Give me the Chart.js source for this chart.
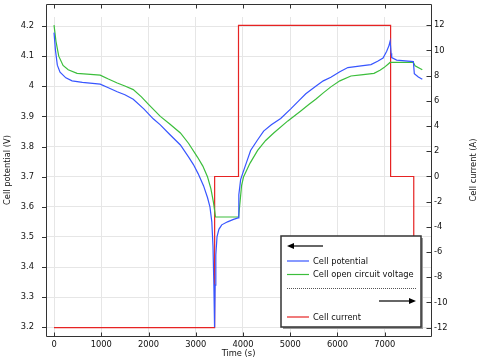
<!DOCTYPE html>
<html><head><meta charset="utf-8">
<script src="https://cdn.jsdelivr.net/npm/chart.js@4/dist/chart.umd.min.js"></script>
<style>html,body{margin:0;padding:0;background:#fff;}#wrap{width:483px;height:361px;position:relative;}</style>
</head><body><div id="wrap"><canvas id="c" width="483" height="361"></canvas></div>
<script>
// ---- data ----
const potTime = [0,30,70,127,250,382,600,977,1150,1338,1500,1677,1900,2100,2250,2450,2675,2850,2951,3050,3164,3250,3300,3340,3365,3385,3398,3410,3425,3450,3490,3550,3673,3800,3895,3912,3950,3992,4080,4161,4300,4437,4600,4798,5011,5200,5330,5540,5700,5860,6050,6220,6500,6709,6850,6965,7042,7090,7115,7135,7148,7254,7606,7627,7712,7796];
const potVolt = [4.178,4.12,4.07,4.047,4.028,4.018,4.013,4.007,3.995,3.982,3.972,3.957,3.925,3.892,3.872,3.84,3.805,3.765,3.74,3.71,3.67,3.63,3.6,3.55,3.47,3.33,3.2,3.34,3.44,3.5,3.525,3.54,3.55,3.558,3.563,3.64,3.69,3.71,3.75,3.787,3.82,3.851,3.872,3.893,3.925,3.955,3.975,4.0,4.018,4.03,4.048,4.062,4.068,4.072,4.083,4.094,4.116,4.135,4.15,4.11,4.095,4.087,4.082,4.042,4.031,4.023];
const ocvTime = [0,40,100,191,300,488,700,977,1150,1338,1500,1677,1850,2000,2250,2450,2675,2850,3036,3150,3248,3320,3376,3418,3907,3940,3970,4013,4150,4310,4480,4650,4950,5223,5400,5540,5700,5860,6050,6285,6500,6773,6900,6985,7076,7113,7606,7642,7796];
const ocvVolt = [4.203,4.15,4.1,4.069,4.055,4.043,4.04,4.037,4.024,4.011,4.001,3.989,3.965,3.94,3.9,3.875,3.845,3.81,3.765,3.735,3.70,3.66,3.614,3.566,3.566,3.62,3.67,3.70,3.745,3.787,3.82,3.845,3.885,3.918,3.94,3.957,3.978,3.998,4.018,4.034,4.038,4.043,4.053,4.062,4.074,4.079,4.079,4.068,4.055];
const curTime = [0,3400,3400,3905,3905,7125,7125,7615,7615,7785];
const curAmp  = [-12,-12,0,0,12,12,0,0,-12,-12];
const xTicks = [0,1000,2000,3000,4000,5000,6000,7000];
const leftTicks = [3.2,3.3,3.4,3.5,3.6,3.7,3.8,3.9,4.0,4.1,4.2];
const rightTicks = [-12,-10,-8,-6,-4,-2,0,2,4,6,8,10,12];
const seriesNames = ['Cell potential','Cell open circuit voltage','Cell current'];
const xTitle = 'Time (s)', leftTitle = 'Cell potential (V)', rightTitle = 'Cell current (A)';

const BLUE = 'rgb(55,85,255)', GREEN = 'rgb(60,190,60)', RED = 'rgb(230,35,35)';
const FONT = '"DejaVu Sans", sans-serif';
const FS = 8.3;
const TXT = '#111';

const pts = (xs, ys) => xs.map((v, i) => ({x: v, y: ys[i]}));

const deco = {
  id: 'deco',
  afterDraw(chart) {
    const ctx = chart.ctx;
    const {x, y, y2} = chart.scales;
    const L = 46.5, R = 431.5, T = 4.5, B = 336.5;
    ctx.save();
    ctx.strokeStyle = '#333'; ctx.lineWidth = 1;
    ctx.beginPath();
    ctx.moveTo(L, T); ctx.lineTo(R, T); ctx.lineTo(R, B); ctx.lineTo(L, B); ctx.closePath();
    ctx.stroke();
    ctx.beginPath();
    leftTicks.forEach(v => { const p = Math.round(y.getPixelForValue(v)) + 0.5; ctx.moveTo(42, p); ctx.lineTo(L, p); });
    rightTicks.forEach(v => { const p = Math.round(y2.getPixelForValue(v)) + 0.5; ctx.moveTo(R, p); ctx.lineTo(R - 5, p); });
    xTicks.forEach(v => { const p = Math.round(x.getPixelForValue(v)) + 0.5; ctx.moveTo(p, B); ctx.lineTo(p, B - 4); ctx.moveTo(p, T); ctx.lineTo(p, T + 4); });
    ctx.stroke();

    // axis titles
    ctx.fillStyle = TXT;
    ctx.font = FS + 'px ' + FONT;
    ctx.textAlign = 'center'; ctx.textBaseline = 'middle';
    ctx.fillText(xTitle, 238.5, 354);
    ctx.save(); ctx.translate(8, 170); ctx.rotate(-Math.PI / 2); ctx.fillText(leftTitle, 0, 0); ctx.restore();
    ctx.save(); ctx.translate(474, 170); ctx.rotate(-Math.PI / 2); ctx.fillText(rightTitle, 0, 0); ctx.restore();

    // legend
    const bx = 281, by = 236, bw = 140, bh = 91;
    ctx.fillStyle = '#9a9a9a';
    ctx.fillRect(bx + 2, by + 2, bw, bh);
    ctx.fillStyle = '#fff';
    ctx.fillRect(bx, by, bw, bh);
    ctx.strokeStyle = '#333'; ctx.lineWidth = 1.5;
    ctx.strokeRect(bx, by, bw, bh);
    ctx.lineWidth = 1.2; ctx.strokeStyle = '#000'; ctx.fillStyle = '#000';
    // left arrow
    ctx.beginPath(); ctx.moveTo(292, 246); ctx.lineTo(323, 246); ctx.stroke();
    ctx.beginPath(); ctx.moveTo(287, 246); ctx.lineTo(294, 243); ctx.lineTo(294, 249); ctx.closePath(); ctx.fill();
    // right arrow
    ctx.beginPath(); ctx.moveTo(379, 301); ctx.lineTo(410, 301); ctx.stroke();
    ctx.beginPath(); ctx.moveTo(416, 301); ctx.lineTo(409, 298); ctx.lineTo(409, 304); ctx.closePath(); ctx.fill();
    // dotted separator
    ctx.strokeStyle = '#555'; ctx.lineWidth = 1; ctx.setLineDash([1, 1]);
    ctx.beginPath(); ctx.moveTo(287, 288.5); ctx.lineTo(416, 288.5); ctx.stroke();
    ctx.setLineDash([]);
    const rows = [[seriesNames[0], BLUE, 261], [seriesNames[1], GREEN, 274.5], [seriesNames[2], RED, 317]];
    ctx.font = FS + 'px ' + FONT; ctx.textAlign = 'left'; ctx.textBaseline = 'middle';
    rows.forEach(([t, c, yy]) => {
      ctx.strokeStyle = c; ctx.lineWidth = 1.2;
      ctx.beginPath(); ctx.moveTo(287, yy); ctx.lineTo(309, yy); ctx.stroke();
      ctx.fillStyle = TXT; ctx.fillText(t, 313, yy + 0.5);
    });
    ctx.restore();
  }
};

const common = {fill: false, tension: 0, pointRadius: 0, borderWidth: 1.2};
new Chart(document.getElementById('c'), {
  type: 'line',
  data: {
    datasets: [
      {...common, label: seriesNames[0], data: pts(potTime, potVolt), borderColor: BLUE, yAxisID: 'y'},
      {...common, label: seriesNames[1], data: pts(ocvTime, ocvVolt), borderColor: GREEN, yAxisID: 'y'},
      {...common, label: seriesNames[2], data: pts(curTime, curAmp), borderColor: RED, yAxisID: 'y2'}
    ]
  },
  options: {
    responsive: false, animation: false, devicePixelRatio: 1,
    layout: {padding: {top: 4, left: 0, right: 0, bottom: 0}},
    plugins: {legend: {display: false}, tooltip: {enabled: false}},
    scales: {
      x: {
        type: 'linear', min: -170, max: 7980,
        afterBuildTicks: s => { s.ticks = xTicks.map(v => ({value: v})); },
        afterFit: s => { s.height = 25; },
        grid: {color: '#e6e6e6', drawTicks: false},
        border: {display: false},
        ticks: {font: {family: FONT, size: FS}, color: TXT, padding: 4, maxRotation: 0, autoSkip: false,
          callback: v => String(v)}
      },
      y: {
        position: 'left', min: 3.171, max: 4.230,
        afterBuildTicks: s => { s.ticks = leftTicks.map(v => ({value: v})); },
        afterFit: s => { s.width = 46; },
        grid: {color: '#e6e6e6', drawTicks: false},
        border: {display: false},
        ticks: {font: {family: FONT, size: FS}, color: TXT, padding: 12, autoSkip: false,
          callback: v => String(Math.round(v * 10) / 10)}
      },
      y2: {
        position: 'right', min: -12.66, max: 12.66,
        afterBuildTicks: s => { s.ticks = rightTicks.map(v => ({value: v})); },
        afterFit: s => { s.width = 52; },
        grid: {drawOnChartArea: false, drawTicks: false},
        border: {display: false},
        ticks: {font: {family: FONT, size: FS}, color: TXT, padding: 3, autoSkip: false,
          callback: v => String(v)}
      }
    }
  },
  plugins: [deco]
});
</script>
</body></html>
